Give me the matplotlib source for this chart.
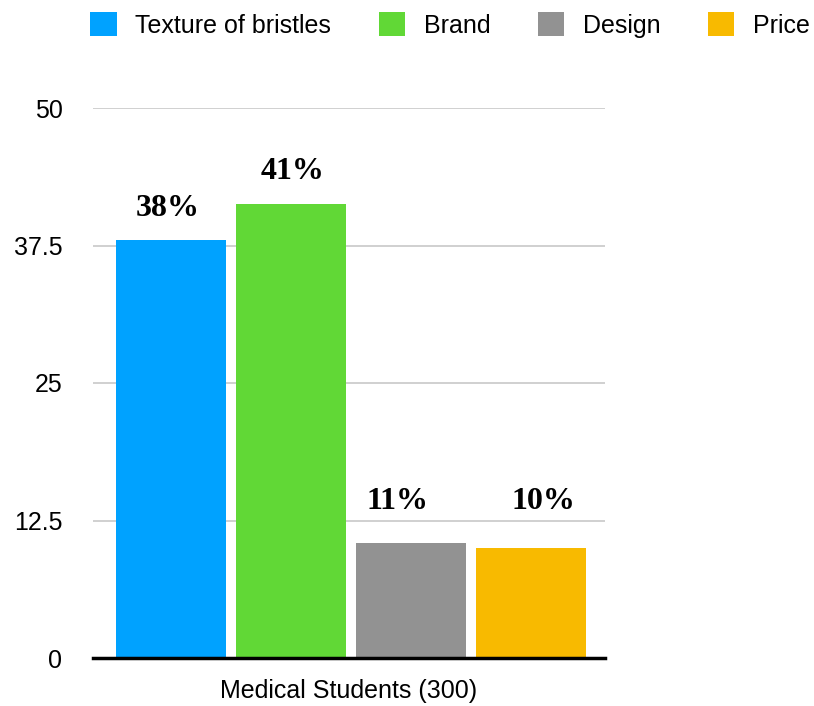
import matplotlib
matplotlib.use("Agg")
import matplotlib.pyplot as plt
from matplotlib.patches import Patch

categories = ["Texture of bristles", "Brand", "Design", "Price"]
values = [38, 41.3, 10.5, 10]
labels = ["38%", "41%", "11%", "10%"]
colors = ["#00A2FF", "#61D836", "#929292", "#F8BA00"]
yticks = [0, 12.5, 25, 37.5, 50]
ytick_labels = ["0", "12.5", "25", "37.5", "50"]
xlabel = "Medical Students (300)"

plt.rcParams['font.family'] = ['Liberation Sans', 'DejaVu Sans']

fig = plt.figure(figsize=(8.14, 7.06), dpi=100)
W, H = 814, 706
ax = fig.add_axes([93 / W, 48 / H, 512 / W, 550 / H])

x = list(range(len(values)))
ax.bar(x, values, width=110 / 120, color=colors, zorder=3)
ax.set_xlim(-0.65, 3.617)
ax.set_ylim(0, 50)

label_dx = [-3, 2, -13, 12]  # pixel nudges of the value labels
for xi, v, lab, dx in zip(x, values, labels, label_dx):
    ax.annotate(lab, (xi, max(v, 11.3) + 2.9), xytext=(dx * 0.72, 0),
                textcoords='offset points', ha='center', va='center',
                fontsize=23, fontweight='bold', family=['Liberation Serif'])

ax.set_yticks(yticks)
ax.set_yticklabels(ytick_labels, fontsize=18)
ax.tick_params(axis='y', length=0, pad=22)
ax.set_xticks([])
ax.grid(axis='y', color='#c8c8c8', linewidth=1.2, zorder=0)
for s in ['top', 'right', 'left']:
    ax.spines[s].set_visible(False)
ax.spines['bottom'].set_linewidth(2.5)
ax.spines['bottom'].set_zorder(4)
ax.set_xlabel(xlabel, fontsize=18, labelpad=15)

handles = [Patch(facecolor=c, edgecolor='none') for c in colors]
fig.legend(handles, categories, loc='center', bbox_to_anchor=(450 / W, 1 - 25 / H),
           ncol=4, frameon=False, fontsize=18, handlelength=1.05, handleheight=1.05,
           handletextpad=0.75, columnspacing=1.9, borderpad=0, borderaxespad=0)

fig.savefig("out.png", dpi=100)
